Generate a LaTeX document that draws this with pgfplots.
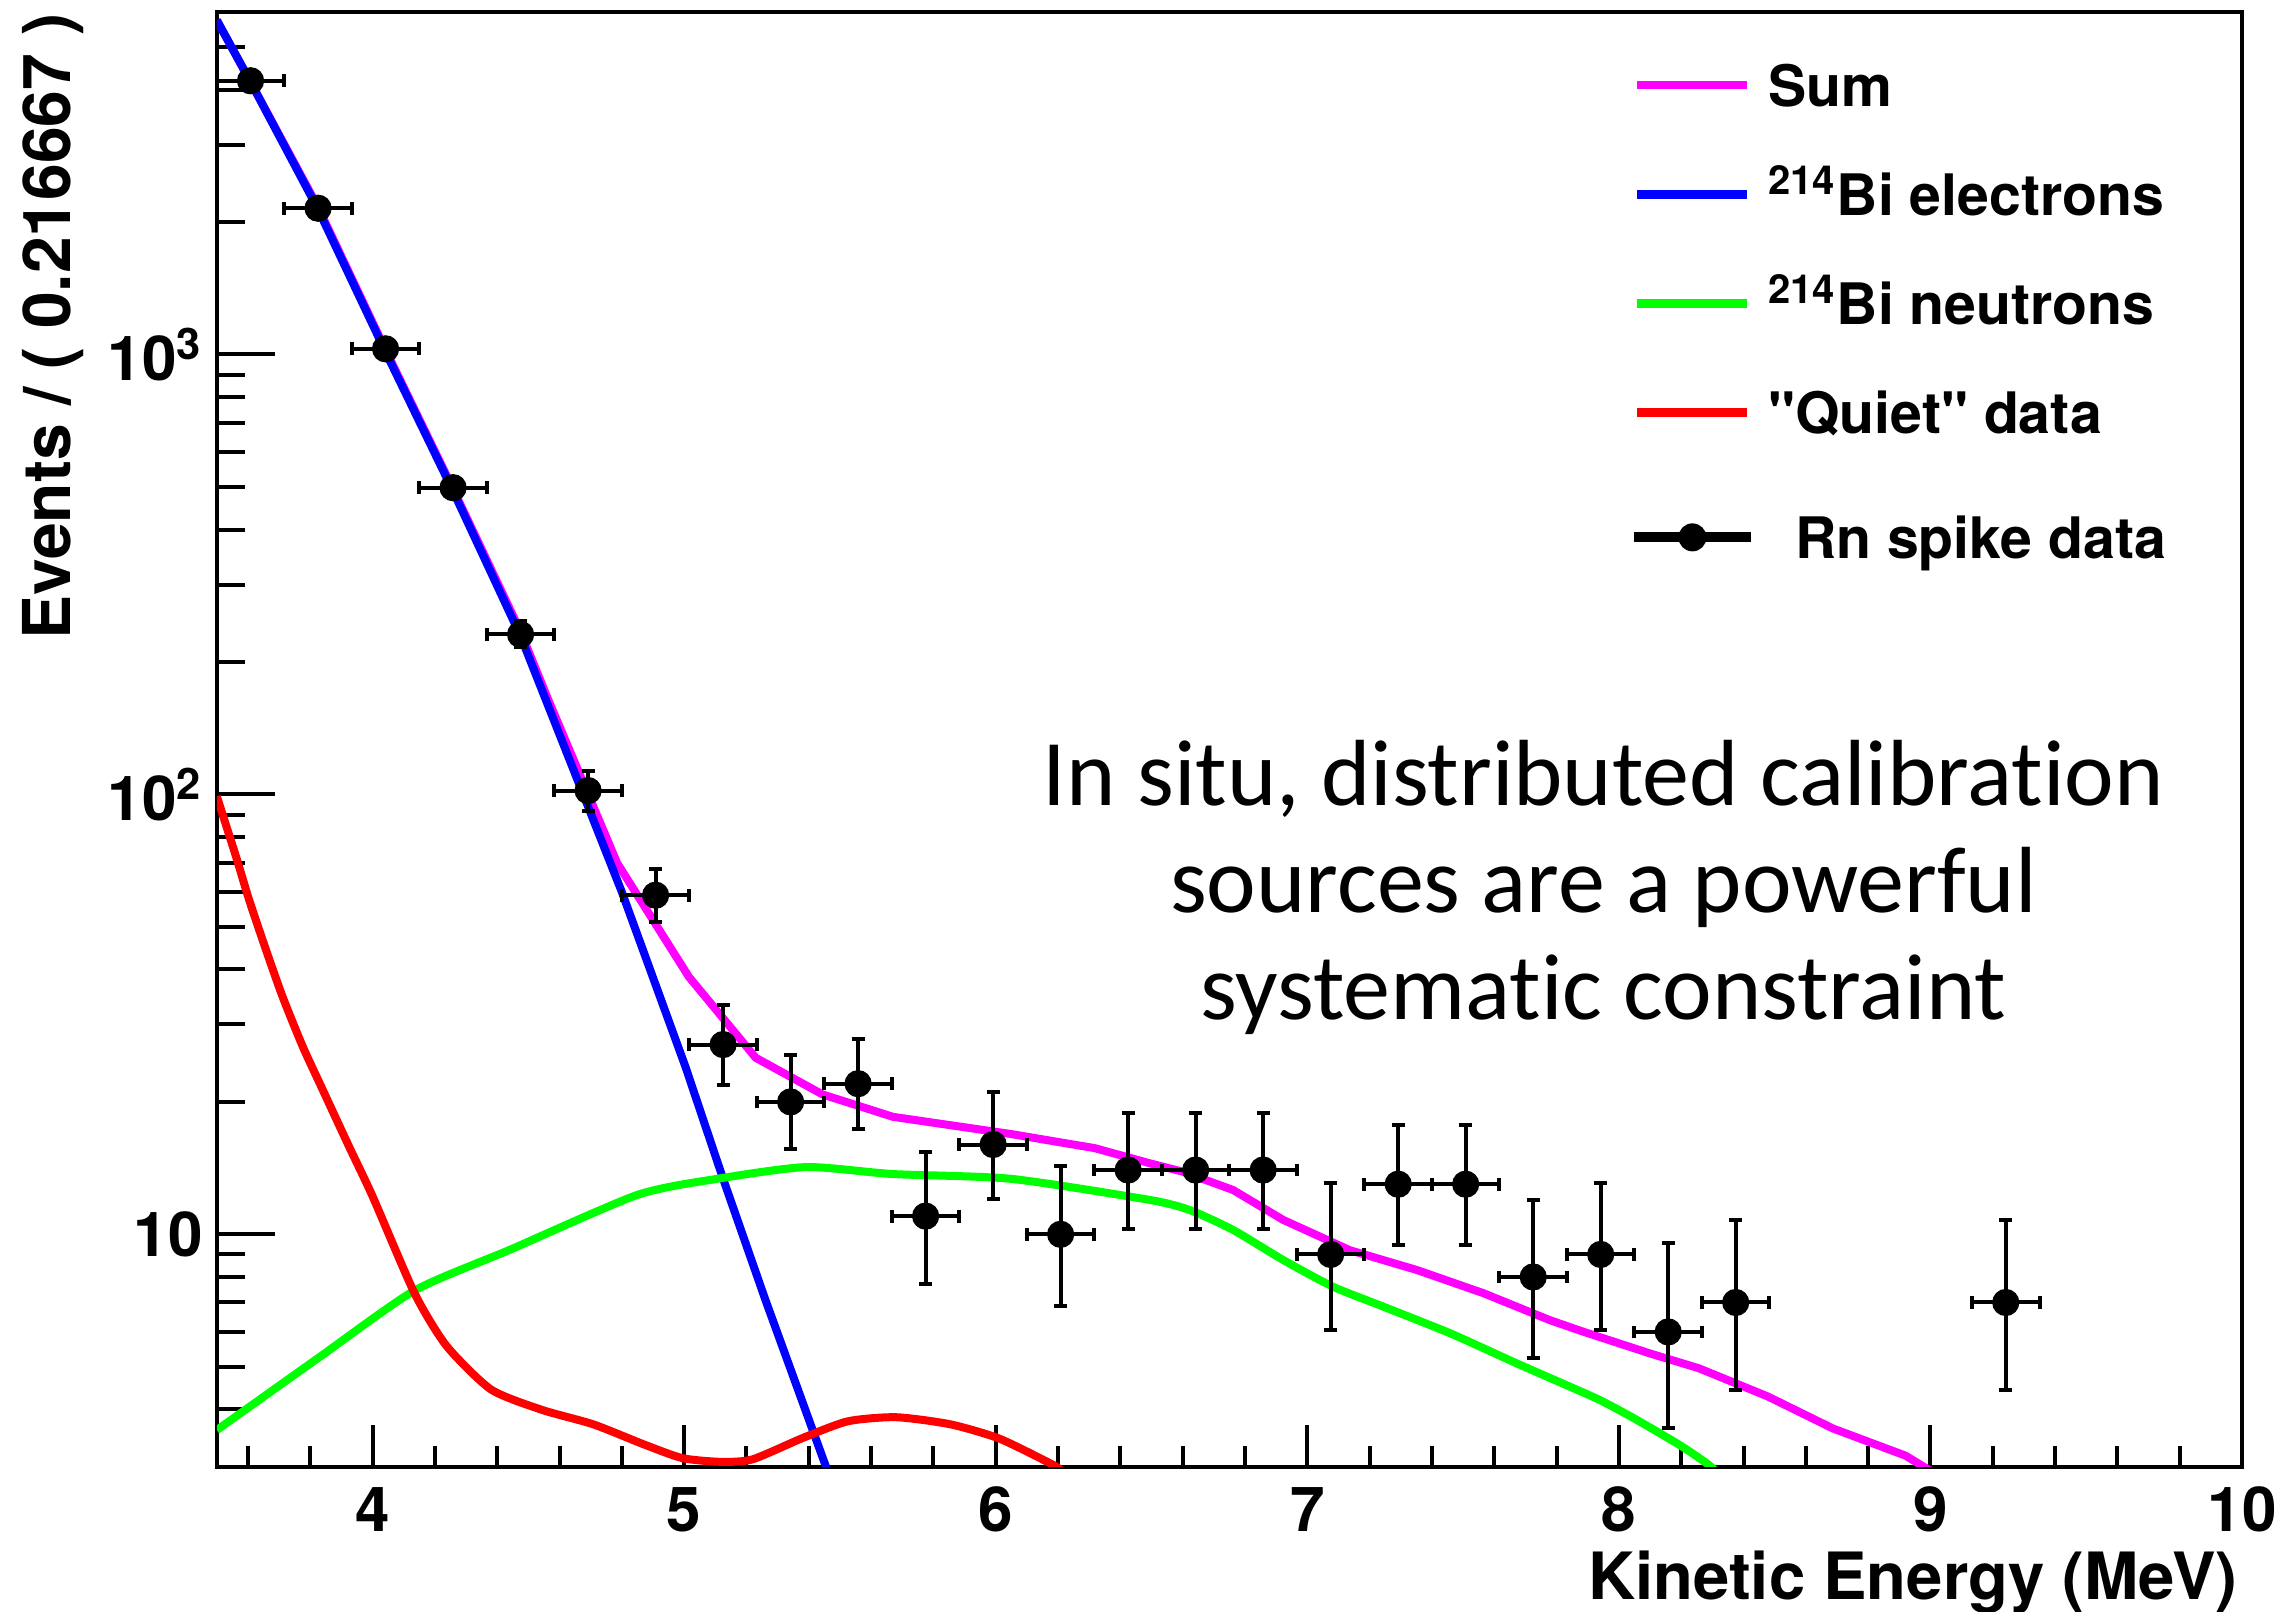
\documentclass[border=0pt]{standalone}
\usepackage{pgfplots}
\pgfplotsset{compat=1.18}
\usepackage{fontspec}
\setmainfont{TeX Gyre Heros}
\newfontfamily\herosplain{TeX Gyre Heros}
\newfontfamily\gill[Ligatures=NoCommon]{Carlito}
\definecolor{rootmag}{RGB}{255,0,255}
\definecolor{rootblue}{RGB}{0,0,255}
\definecolor{rootgreen}{RGB}{0,255,0}
\definecolor{rootred}{RGB}{255,0,0}
\begin{document}
\begin{tikzpicture}
\begin{axis}[
  scale only axis, width=506.3pt, height=363.6pt,
  xmin=3.5, xmax=10, ymode=log, ymin=2.96, ymax=5990,
  axis line style={line width=1pt},
  tick style={line width=1pt, black},
  tick pos=left, tick align=inside,
  major tick length=12pt, minor tick length=6pt,
  every major x tick/.append style={/pgfplots/major tick length=10.5pt},
  every minor x tick/.append style={/pgfplots/minor tick length=5.25pt},
  every major y tick/.append style={/pgfplots/major tick length=14.5pt},
  every minor y tick/.append style={/pgfplots/minor tick length=7pt},
  xtick={4,5,6,7,8,9,10}, xticklabels={4,5,6,7,8,9,10},
  minor xtick={3.6,3.8,4.2,4.4,4.6,4.8,5.2,5.4,5.6,5.8,6.2,6.4,6.6,6.8,7.2,7.4,7.6,7.8,8.2,8.4,8.6,8.8,9.2,9.4,9.6,9.8},
  ytick={10,100,1000}, yticklabels={10,10\textsuperscript{2},10\textsuperscript{3}},
  minor ytick={4,5,6,7,8,9,20,30,40,50,60,70,80,90,200,300,400,500,600,700,800,900,2000,3000,4000,5000},
  tick label style={font=\fontsize{15.5}{18}\selectfont\bfseries},
  xticklabel style={yshift=-1.5pt},
  xlabel={Kinetic Energy (MeV)},
  ylabel={Events / ( 0.216667 )},
  every axis x label/.style={at={(rel axis cs:0.998,-0.0571)}, anchor=north east, inner sep=0pt, font=\fontsize{16.3}{19}\selectfont\bfseries},
  every axis y label/.style={at={(rel axis cs:-0.0652,1)}, rotate=90, anchor=south east, inner sep=0pt, font=\fontsize{16.5}{19}\selectfont\bfseries},
  legend image code/.code={\draw[#1] (0pt,0pt) -- (27.5pt,0pt);},
  legend cell align=left,
  legend style={at={(rel axis cs:0.699,1)}, anchor=north west, xshift=-0.9pt, yshift=-4.5pt,
    draw=none, fill=none, inner sep=0pt, outer sep=0pt, row sep=0pt, column sep=3pt,
    font=\fontsize{14.3}{17}\selectfont\bfseries,
    nodes={inner sep=0pt, text height=19pt, text depth=8.27pt, anchor=west}},
]
\addlegendimage{rootmag, line width=2.2pt}
\addlegendentry{Sum}
\addlegendimage{rootblue, line width=2.2pt}
\addlegendentry{\textsuperscript{214}Bi electrons}
\addlegendimage{rootgreen, line width=2.2pt}
\addlegendentry{\textsuperscript{214}Bi neutrons}
\addlegendimage{rootred, line width=2.2pt}
\addlegendentry{{\herosplain\bfseries "Quiet" data}}
\addlegendimage{legend image code/.code={\draw[black, line width=2.5pt] (-0.9pt,0pt) -- (28.4pt,0pt); \fill[black] (13.75pt,0pt) circle (3.3pt);}}
\addlegendentry[text height=23pt, text depth=12.27pt]{\hspace*{6.75pt}Rn spike data}

% Sum
\addplot[rootmag, line width=2pt, forget plot] coordinates {
(3.5,5754) (3.608,4169) (3.825,2163) (4.042,1023) (4.258,495.5) (4.475,234.4)
(4.5645,163.7) (4.785,69.8) (5.015,38.5) (5.2295,25.2) (5.444,20.8) (5.67,18.5)
(6.05,16.9) (6.318,15.7) (6.495,14.5) (6.602,13.87) (6.762,12.61) (6.923,10.78)
(7.137,9.20) (7.351,8.30) (7.565,7.35) (7.779,6.38) (7.885,6.01) (8.1,5.36)
(8.257,4.96) (8.478,4.28) (8.687,3.62) (8.92,3.14) (9.0,2.9)
};
% Bi electrons
\addplot[rootblue, line width=2pt, forget plot] coordinates {
(3.5,5754) (3.608,4169) (3.825,2138) (4.042,1012) (4.258,490) (4.475,229)
(4.8,60) (5.0045,24.0) (5.123,13.5) (5.26,7.12) (5.46,2.9)
};
% Bi neutrons
\addplot[rootgreen, line width=2pt, smooth, tension=0.4, forget plot] coordinates {
(3.5,3.59) (3.828,5.25) (4.1345,7.45) (4.4416,9.23) (4.851,12.3) (5.117,13.41)
(5.393,14.22) (5.67,13.71) (6.05,13.37) (6.495,11.97) (6.623,11.35) (6.762,10.23)
(6.923,8.74) (7.083,7.60) (7.244,6.85) (7.458,5.96) (7.672,5.09) (7.832,4.54)
(7.939,4.20) (8.048,3.82) (8.195,3.32) (8.281,3.02) (8.31,2.9)
};
% Quiet data
\addplot[rootred, line width=2pt, smooth, tension=0.4, forget plot] coordinates {
(3.5,99) (3.562,72.1) (3.604,57.5) (3.658,44.3) (3.711,34.7) (3.776,26.7)
(3.84,21.3) (3.925,15.8) (4.0,12.2) (4.1345,7.35) (4.237,5.58)
(4.38,4.44) (4.544,3.99) (4.708,3.70) (4.871,3.33) (4.994,3.10) (5.117,3.04)
(5.2195,3.08) (5.383,3.45) (5.526,3.76) (5.68,3.84) (5.854,3.70) (6.013,3.43)
(6.185,2.99) (6.21,2.9)
};
% Rn spike data
\addplot[only marks, mark=*, mark size=3.2pt, black, mark options={fill=black, draw=black}, forget plot,
  error bars/.cd, x dir=both, x explicit, y dir=both, y explicit,
  error bar style={line width=1pt, black},
  error mark options={rotate=90, line width=1pt, mark size=1.6pt, black}]
table[x=E, y=N, x error=ex, y error plus=ep, y error minus=em] {
E N ex ep em
3.6083 4190 0.10833 65.7 64.7
3.8250 2150 0.10833 47.4 46.4
4.0417 1030 0.10833 33.1 32.1
4.2583 498 0.10833 23.3 22.3
4.4750 231 0.10833 16.2 15.2
4.6917 102 0.10833 11.1 10.1
4.9083 59 0.10833 8.7 7.7
5.1250 27 0.10833 6.3 5.2
5.3417 20 0.10833 5.5 4.4
5.5583 22 0.10833 5.76 4.65
5.7750 11 0.10833 4.42 3.27
5.9917 16 0.10833 5.08 3.96
6.2083 10 0.10833 4.27 3.11
6.4250 14 0.10833 4.83 3.70
6.6417 14 0.10833 4.83 3.70
6.8583 14 0.10833 4.83 3.70
7.0750 9 0.10833 4.11 2.94
7.2917 13 0.10833 4.70 3.56
7.5083 13 0.10833 4.70 3.56
7.7250 8 0.10833 3.95 2.77
7.9417 9 0.10833 4.11 2.94
8.1583 6 0.10833 3.58 2.38
8.3750 7 0.10833 3.77 2.58
9.2417 7 0.10833 3.77 2.58
};
\node[anchor=base, font=\gill\fontsize{23.5}{27}\selectfont] at (rel axis cs:0.6847,0.4551) {In situ, distributed calibration};
\node[anchor=base, font=\gill\fontsize{23.5}{27}\selectfont] at (rel axis cs:0.6847,0.3811) {sources are a powerful};
\node[anchor=base, font=\gill\fontsize{23.5}{27}\selectfont] at (rel axis cs:0.6847,0.3073) {systematic constraint};
\coordinate (bbsw) at (rel axis cs:-0.10705,-0.09969);
\coordinate (bbne) at (rel axis cs:1.02123,1.00859);
\end{axis}
\pgfresetboundingbox
\path[use as bounding box] (bbsw) rectangle (bbne);
\end{tikzpicture}
\end{document}
